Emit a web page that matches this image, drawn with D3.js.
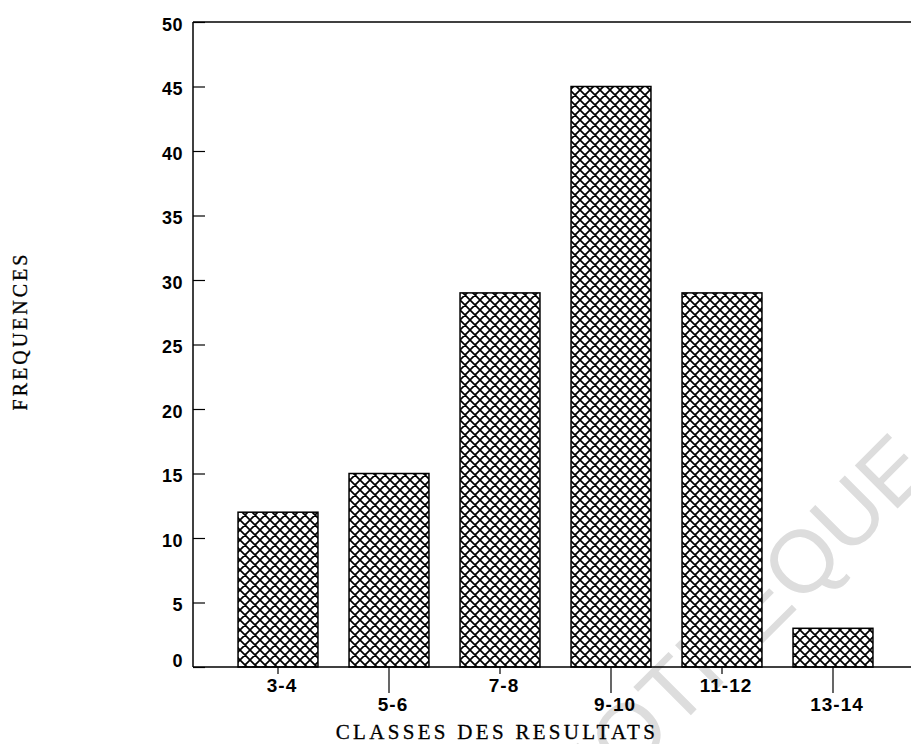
<!DOCTYPE html>
<html><head><meta charset="utf-8">
<script src="https://cdn.jsdelivr.net/npm/d3@7"></script>
<style>body{margin:0;background:#fff}svg{display:block}</style>
</head><body>
<script>
const categories = ["3-4","5-6","7-8","9-10","11-12","13-14"];
const frequences = [12,15,29,45,29,3];
const yTicks = [0,5,10,15,20,25,30,35,40,45,50];

(function(){
const W = 911, H = 744;
const svg = d3.select("body").append("svg").attr("width",W).attr("height",H);
const defs = svg.append("defs");
const pat = defs.append("pattern").attr("id","hatch").attr("patternUnits","userSpaceOnUse")
  .attr("width",10).attr("height",10);
pat.append("rect").attr("width",10).attr("height",10).attr("fill","#fff");
pat.append("path").attr("d","M-1,1 L1,-1 M0,10 L10,0 M9,11 L11,9 M-1,9 L1,11 M0,0 L10,10 M9,-1 L11,1")
  .attr("stroke","#000").attr("stroke-width",1.7);

// watermark
svg.append("text").attr("transform","translate(934,472) rotate(-45)").attr("text-anchor","end")
  .attr("font-family","Liberation Sans, Arial, sans-serif").attr("font-size",88)
  .attr("fill","#dddddd")
  .text("BIBLIOTHEQUE");

const pl = 193, pt = 22, pb = 667, pr = 911;
const y = d3.scaleLinear().domain([0,50]).range([pb, pt]);
const x = d3.scaleBand().domain(categories).range([222.5, 888.5]).paddingInner(0.28).paddingOuter(0.14);

svg.append("g").selectAll("rect").data(categories).join("rect")
  .attr("x", d => x(d)).attr("width", x.bandwidth())
  .attr("y", (d,i) => y(frequences[i])).attr("height", (d,i) => pb - y(frequences[i]))
  .attr("fill","url(#hatch)").attr("stroke","#000").attr("stroke-width",1.5);

const frame = svg.append("g").attr("stroke","#000").attr("stroke-width",1.5);
frame.append("line").attr("x1",pl).attr("x2",pr).attr("y1",pt).attr("y2",pt);
frame.append("line").attr("x1",pl).attr("x2",pr).attr("y1",pb).attr("y2",pb);

const yAxis = d3.axisRight(y).tickValues(yTicks).tickSize(12).tickFormat("");
const gy = svg.append("g").attr("transform",`translate(${pl},0)`).call(yAxis);
gy.select(".domain").attr("stroke-width",1.5).attr("d",`M0,${pt}V${pb}`);
gy.selectAll(".tick line").attr("stroke-width",1.2);
svg.append("g").selectAll("text").data(yTicks).join("text")
  .attr("x",183).attr("y",d => d === 0 ? y(d) - 0.5 : y(d) + 8.5).attr("text-anchor","end")
  .attr("font-family","Liberation Sans, Arial, sans-serif").attr("font-weight","bold").attr("font-size",18)
  .attr("letter-spacing",0.5)
  .text(d => d);

const gx = svg.append("g");
categories.forEach((c,i) => {
  const cx = x(c) + x.bandwidth()/2;
  const long = i % 2 === 1;
  gx.append("line").attr("x1",cx).attr("x2",cx).attr("y1",pb).attr("y2",pb + (long?26:7))
    .attr("stroke","#000").attr("stroke-width",1.2);
  gx.append("text").attr("x",cx + 4).attr("y", long ? 711 : 692).attr("text-anchor","middle")
    .attr("font-family","Liberation Sans, Arial, sans-serif").attr("font-weight","bold").attr("font-size",19)
    .attr("letter-spacing",1)
    .text(c);
});

svg.append("text").attr("x",497).attr("y",739).attr("text-anchor","middle")
  .attr("font-family","Liberation Serif, Times New Roman, serif").attr("font-size",21)
  .attr("letter-spacing",3.3).attr("stroke","#000").attr("stroke-width",0.3).text("CLASSES DES RESULTATS");
svg.append("text").attr("transform","translate(27,331) rotate(-90)").attr("text-anchor","middle")
  .attr("font-family","Liberation Serif, Times New Roman, serif").attr("font-size",20)
  .attr("letter-spacing",3).attr("stroke","#000").attr("stroke-width",0.3).text("FREQUENCES");
})();
</script>
</body></html>
